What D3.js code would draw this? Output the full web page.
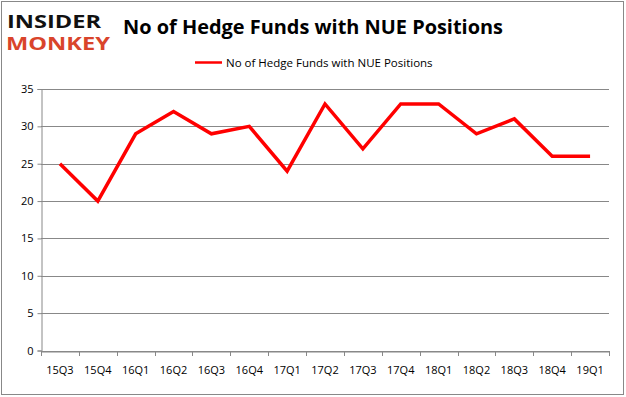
<!DOCTYPE html>
<html>
<head>
<meta charset="utf-8">
<script src="https://cdn.jsdelivr.net/npm/d3@7"></script>
<style>
    body { margin: 0; background: #fff; }
    text { font-family: "Open Sans", "DejaVu Sans", sans-serif; }
</style>
</head>
<body>
<svg width="626" height="397"></svg>
<script>
    // data
    const quarters = ["15Q3", "15Q4", "16Q1", "16Q2", "16Q3", "16Q4", "17Q1", "17Q2",
        "17Q3", "17Q4", "18Q1", "18Q2", "18Q3", "18Q4", "19Q1"];
    const funds = [25, 20, 29, 32, 29, 30, 24, 33, 27, 33, 33, 29, 31, 26, 26];
    const yTicks = [0, 5, 10, 15, 20, 25, 30, 35];
    const seriesName = "No of Hedge Funds with NUE Positions";

    const svg = d3.select("svg");
    const margin = { top: 89, right: 17, bottom: 46, left: 41 };
    const w = 626 - margin.left - margin.right;
    const h = 397 - margin.top - margin.bottom - 0.5;

    // outer frame
    svg.append("rect")
        .attr("x", 1.5).attr("y", 1.5)
        .attr("width", 622).attr("height", 393)
        .attr("fill", "none").attr("stroke", "#888").attr("stroke-width", 1);

    // logo
    svg.append("text").attr("x", 7).attr("y", 28)
        .attr("font-family", "DejaVu Sans").attr("font-weight", "bold")
        .attr("font-size", 18).attr("fill", "#111")
        .attr("textLength", 94).attr("lengthAdjust", "spacingAndGlyphs")
        .text("INSIDER");
    svg.append("text").attr("x", 6).attr("y", 50)
        .attr("font-family", "DejaVu Sans").attr("font-weight", "bold")
        .attr("font-size", 18).attr("fill", "#d9442b")
        .attr("textLength", 104).attr("lengthAdjust", "spacingAndGlyphs")
        .text("MONKEY");

    // title
    svg.append("text").attr("x", 313).attr("y", 34)
        .attr("text-anchor", "middle")
        .attr("font-weight", "bold").attr("font-size", 20).attr("fill", "#000")
        .attr("textLength", 380).attr("lengthAdjust", "spacingAndGlyphs")
        .text("No of Hedge Funds with NUE Positions");

    // legend
    svg.append("line").attr("x1", 195).attr("x2", 222).attr("y1", 62.5).attr("y2", 62.5)
        .attr("stroke", "#ff0000").attr("stroke-width", 2.5);
    svg.append("text").attr("x", 226).attr("y", 66.5)
        .attr("font-size", 11.5).attr("fill", "#000").text(seriesName);

    const g = svg.append("g").attr("transform", `translate(${margin.left},${margin.top})`);

    const x = d3.scaleBand().domain(quarters).range([0, w]);
    const y = d3.scaleLinear().domain([0, 35]).range([h, 0]);

    // gridlines
    g.selectAll(".grid").data(yTicks).join("line")
        .attr("x1", 0).attr("x2", w)
        .attr("y1", d => Math.round(y(d)) + 0.5).attr("y2", d => Math.round(y(d)) + 0.5)
        .attr("stroke", "#888").attr("stroke-width", 1);

    // y axis
    const yAxis = g.append("g").attr("transform", "translate(0.5,0)")
        .call(d3.axisLeft(y).tickValues(yTicks).tickSize(4).tickPadding(4));
    yAxis.select(".domain").attr("stroke", "#888");
    yAxis.selectAll(".tick line").attr("stroke", "#888");
    yAxis.selectAll(".tick text").attr("font-size", 11).attr("fill", "#000")
        .attr("font-family", "Open Sans, sans-serif");

    // x axis
    const xAxis = g.append("g").attr("transform", `translate(0,${Math.round(h) + 0.5})`)
        .call(d3.axisBottom(x).tickSize(0).tickPadding(15));
    xAxis.select(".domain").attr("stroke", "#888");
    xAxis.selectAll(".tick text").attr("font-size", 11).attr("fill", "#000")
        .attr("font-family", "Open Sans, sans-serif");
    g.selectAll(".xtick").data(quarters.concat([null])).join("line")
        .attr("x1", (d, i) => Math.round(i * x.step()) + 0.5)
        .attr("x2", (d, i) => Math.round(i * x.step()) + 0.5)
        .attr("y1", Math.round(h)).attr("y2", Math.round(h) + 5)
        .attr("stroke", "#888");

    // line
    const line = d3.line()
        .x((d, i) => x(quarters[i]) + x.bandwidth() / 2)
        .y(d => y(d));
    g.append("path").datum(funds)
        .attr("d", line)
        .attr("fill", "none")
        .attr("stroke", "#ff0000")
        .attr("stroke-width", 3.5)
        .attr("stroke-linejoin", "miter");
</script>
</body>
</html>
